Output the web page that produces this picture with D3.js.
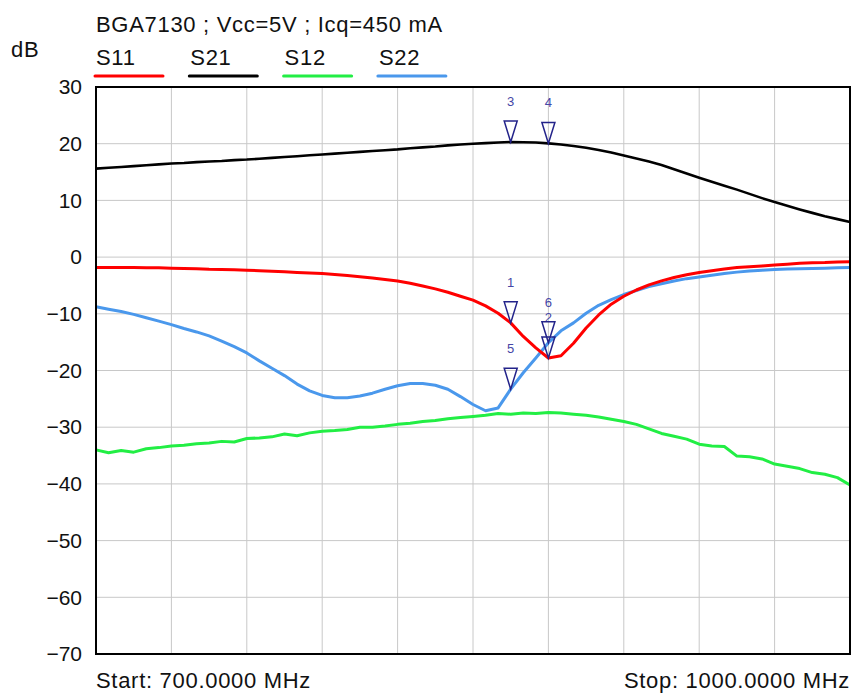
<!DOCTYPE html>
<html>
<head>
<meta charset="utf-8">
<script src="https://cdn.jsdelivr.net/npm/d3@7"></script>
<style>
  body { margin: 0; background: #fff; }
  svg { font-family: "Liberation Sans", Arial, sans-serif; }
  .lbl { font-size: 22px; letter-spacing: 0.7px; fill: #111; }
</style>
</head>
<body>
<div id="chart"></div>
<script>
const width = 853;
const height = 694;
const margin = {top: 87, right: 3, bottom: 40, left: 96};

const title = 'BGA7130 ; Vcc=5V ; Icq=450 mA';
const startLabel = 'Start: 700.0000 MHz';
const stopLabel = 'Stop: 1000.0000 MHz';
const yTicks = [30, 20, 10, 0, -10, -20, -30, -40, -50, -60, -70];

// frequency points, MHz (5 MHz steps)
const freqs = d3.range(700, 1000.1, 5);

const s21 = [15.6, 15.75, 15.9, 16.05, 16.2, 16.35, 16.5, 16.6, 16.75, 16.85,
  16.95, 17.1, 17.2, 17.35, 17.5, 17.65, 17.8, 17.95, 18.1, 18.25,
  18.4, 18.55, 18.7, 18.85, 19.0, 19.2, 19.35, 19.5, 19.7, 19.85,
  20.0, 20.1, 20.2, 20.3, 20.25, 20.2, 20.05, 19.85, 19.6, 19.3,
  18.9, 18.45, 17.9, 17.4, 16.85, 16.25, 15.5, 14.75, 14.0, 13.3,
  12.6, 11.9, 11.15, 10.4, 9.7, 9.05, 8.4, 7.8, 7.2, 6.7, 6.2];

const s11 = [-1.85, -1.85, -1.85, -1.85, -1.9, -1.9, -1.95, -2.0, -2.05, -2.15,
  -2.2, -2.25, -2.3, -2.4, -2.5, -2.6, -2.7, -2.8, -2.9, -3.05,
  -3.25, -3.45, -3.7, -3.95, -4.2, -4.6, -5.1, -5.6, -6.2, -6.9,
  -7.6, -8.6, -9.9, -11.6, -14.0, -16.0, -17.8, -17.4, -15.2, -12.5,
  -10.2, -8.3, -6.9, -5.8, -4.9, -4.2, -3.6, -3.1, -2.7, -2.4,
  -2.1, -1.85, -1.7, -1.55, -1.4, -1.25, -1.1, -1.0, -0.95, -0.85, -0.8];

const s12 = [-34.0, -34.5, -34.1, -34.4, -33.8, -33.6, -33.3, -33.2, -32.9, -32.8,
  -32.5, -32.6, -32.0, -31.9, -31.7, -31.2, -31.5, -31.0, -30.7, -30.6,
  -30.4, -30.0, -30.0, -29.8, -29.5, -29.3, -29.0, -28.8, -28.5, -28.3,
  -28.1, -27.9, -27.6, -27.7, -27.5, -27.6, -27.4, -27.5, -27.7, -27.9,
  -28.2, -28.6, -29.0, -29.5, -30.3, -31.1, -31.6, -32.1, -33.0, -33.3,
  -33.4, -35.1, -35.2, -35.6, -36.5, -36.9, -37.3, -38.0, -38.3, -38.9, -40.2];

const s22 = [-8.75, -9.2, -9.6, -10.1, -10.7, -11.3, -11.9, -12.6, -13.2, -13.9,
  -14.8, -15.8, -16.9, -18.3, -19.6, -20.9, -22.4, -23.6, -24.4, -24.8,
  -24.8, -24.5, -24.0, -23.3, -22.7, -22.3, -22.3, -22.6, -23.3, -24.6,
  -26.0, -27.1, -26.6, -23.3, -20.4, -17.8, -15.1, -13.0, -11.6, -9.9,
  -8.5, -7.5, -6.6, -5.9, -5.2, -4.7, -4.2, -3.8, -3.5, -3.2,
  -2.9, -2.65, -2.45, -2.3, -2.2, -2.1, -2.05, -2.0, -1.95, -1.9, -1.85];

const seriesNames = ['S11', 'S21', 'S12', 'S22'];
const seriesColors = ['#ff0000', '#000000', '#22ee44', '#4a98ec'];
const seriesValues = [s11, s21, s12, s22];

// markers: label, series index, frequency
const markerLabels = ['1', '2', '3', '4', '5', '6'];
const markerSeries = [0, 0, 1, 1, 3, 3];
const markerFreqs = [865, 880, 865, 880, 865, 880];

function initSvg(){
    return d3.select('#chart')
        .append('svg')
        .attr('width', width)
        .attr('height', height);
}

const svg = initSvg();
const plotW = width - margin.left - margin.right;
const plotH = 654 - margin.top;

const x = d3.scaleLinear().domain([700, 1000]).range([margin.left, margin.left + plotW]);
const y = d3.scaleLinear().domain([-70, 30]).range([margin.top + plotH, margin.top]);

// grid
const grid = svg.append('g').attr('class', 'grid');
grid.selectAll('line.v')
    .data(d3.range(730, 1000, 30))
    .enter().append('line')
    .attr('x1', d => x(d)).attr('x2', d => x(d))
    .attr('y1', y(30)).attr('y2', y(-70))
    .style('stroke', '#c8c8c8').style('stroke-width', 1);
grid.selectAll('line.h')
    .data(yTicks.slice(1, -1))
    .enter().append('line')
    .attr('x1', x(700)).attr('x2', x(1000))
    .attr('y1', d => y(d)).attr('y2', d => y(d))
    .style('stroke', '#c8c8c8').style('stroke-width', 1);

// y axis labels
const yAxis = d3.axisLeft(y).tickValues(yTicks).tickSize(0).tickPadding(14);
svg.append('g')
    .attr('transform', `translate(${margin.left},0)`)
    .call(yAxis)
    .call(g => g.select('.domain').remove())
    .selectAll('text')
    .style('font-size', '21px')
    .style('font-family', '"Liberation Sans", Arial, sans-serif')
    .attr('fill', '#111');

// curves
const line = d3.line()
    .x((d, i) => x(freqs[i]))
    .y(d => y(d));

svg.append('g')
    .attr('class', 'curves')
    .selectAll('path')
    .data([s12, s22, s11, s21])
    .enter().append('path')
    .attr('d', line)
    .style('fill', 'none')
    .style('stroke', d => seriesColors[seriesValues.indexOf(d)])
    .style('stroke-width', d => d === s21 ? 2.6 : 3)
    .style('stroke-linejoin', 'round');

// frame
svg.append('rect')
    .attr('x', x(700)).attr('y', y(30))
    .attr('width', x(1000) - x(700)).attr('height', y(-70) - y(30))
    .style('fill', 'none').style('stroke', '#000').style('stroke-width', 2);

// markers
const markers = svg.append('g').attr('class', 'markers')
    .selectAll('g')
    .data(markerLabels)
    .enter().append('g')
    .attr('transform', (d, i) => {
        const vals = seriesValues[markerSeries[i]];
        const v = vals[freqs.indexOf(markerFreqs[i])];
        return `translate(${x(markerFreqs[i])},${y(v)})`;
    });
markers.append('path')
    .attr('d', 'M0,0 L-6.5,-21 L6.5,-21 Z')
    .style('fill', 'none').style('stroke', '#23238a').style('stroke-width', 1.5);
markers.append('text')
    .attr('y', -36)
    .attr('text-anchor', 'middle')
    .style('font-size', '13px')
    .style('fill', '#4646a6')
    .text(d => d);

// title, unit and legend
svg.append('text')
    .attr('class', 'lbl')
    .attr('x', 96).attr('y', 32)
    .text(title);
svg.append('text')
    .attr('class', 'lbl')
    .attr('x', 11).attr('y', 57)
    .text('dB');

const legend = svg.append('g').attr('class', 'legend')
    .selectAll('g')
    .data(seriesNames)
    .enter().append('g')
    .attr('transform', (d, i) => `translate(${96 + i * 94.3},0)`);
legend.append('text')
    .attr('class', 'lbl')
    .attr('x', 0).attr('y', 65)
    .text(d => d);
legend.append('line')
    .attr('x1', -1).attr('x2', 67)
    .attr('y1', 76).attr('y2', 76)
    .style('stroke', (d, i) => seriesColors[i])
    .style('stroke-width', 3)
    .style('stroke-linecap', 'round');

// start / stop
svg.append('text')
    .attr('class', 'lbl')
    .attr('x', 96).attr('y', 688)
    .text(startLabel);
svg.append('text')
    .attr('class', 'lbl')
    .attr('x', 850).attr('y', 688)
    .attr('text-anchor', 'end')
    .text(stopLabel);
</script>
</body>
</html>
